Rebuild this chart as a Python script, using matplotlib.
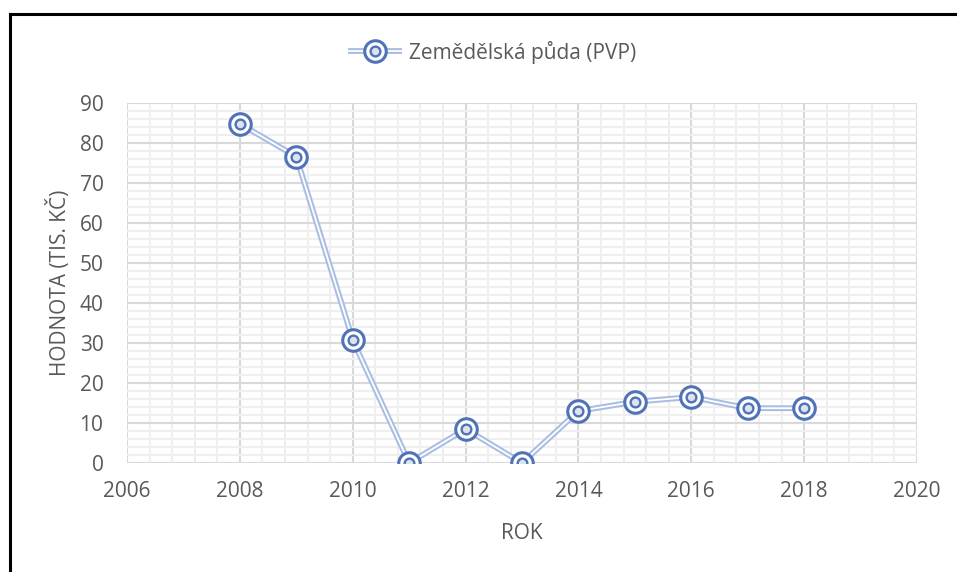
import matplotlib
matplotlib.use("Agg")
import matplotlib.pyplot as plt
from matplotlib.lines import Line2D
from matplotlib.legend_handler import HandlerTuple
from matplotlib.ticker import MultipleLocator

plt.rcParams["font.family"] = ["Open Sans", "DejaVu Sans"]

YEARS = [2008, 2009, 2010, 2011, 2012, 2013, 2014, 2015, 2016, 2017, 2018]
VALUES = [84.8, 76.6, 30.8, 0.0, 8.5, 0.0, 13.0, 15.3, 16.5, 13.7, 13.7]
SERIES_LABEL = "Zemědělská půda (PVP)"
X_LABEL = "ROK"
Y_LABEL = "HODNOTA (TIS. KČ)"

TEXT_COLOR = "#595959"
LINE_COLOR = "#A9BDE3"
MARKER_COLOR = "#4F72B8"
FONT_SIZE = 15

fig = plt.figure(figsize=(9.57, 5.72), dpi=100)
ax = fig.add_axes([127 / 957, 1 - 463 / 572, 790 / 957, 360 / 572])

outer_line, = ax.plot(YEARS, VALUES, color=LINE_COLOR, linewidth=4.2, zorder=3,
                      solid_capstyle="butt", solid_joinstyle="round")
inner_line, = ax.plot(YEARS, VALUES, color="white", linewidth=1.3, zorder=4,
                      solid_capstyle="butt", solid_joinstyle="round")
outer_mk, = ax.plot(YEARS, VALUES, linestyle="none", marker="o", markersize=15.5,
                    markerfacecolor="white", markeredgecolor=MARKER_COLOR,
                    markeredgewidth=2.2, zorder=5)
inner_mk, = ax.plot(YEARS, VALUES, linestyle="none", marker="o", markersize=7,
                    markerfacecolor="#DCE4F2", markeredgecolor=MARKER_COLOR,
                    markeredgewidth=1.7, zorder=6)

ax.set_xlim(2006, 2020)
ax.set_ylim(0, 90)
ax.xaxis.set_major_locator(MultipleLocator(2))
ax.xaxis.set_minor_locator(MultipleLocator(0.4))
ax.yaxis.set_major_locator(MultipleLocator(10))
ax.yaxis.set_minor_locator(MultipleLocator(2))

ax.grid(True, which="major", color="#D9D9D9", linewidth=1.5, zorder=1)
ax.grid(True, which="minor", color="#EFEFEF", linewidth=1.5, zorder=0)
ax.set_axisbelow(True)
for side in ["left", "right", "top", "bottom"]:
    ax.spines[side].set_visible(False)

ax.tick_params(which="both", length=0, labelsize=FONT_SIZE, colors=TEXT_COLOR, pad=13)
ax.tick_params(axis="y", pad=17)
ax.set_xlabel(X_LABEL, fontsize=FONT_SIZE, color=TEXT_COLOR, labelpad=15)
ax.set_ylabel(Y_LABEL, fontsize=FONT_SIZE, color=TEXT_COLOR, labelpad=6)

fig.legend(handles=[(outer_line, inner_line, outer_mk, inner_mk)], labels=[SERIES_LABEL],
           handler_map={tuple: HandlerTuple(ndivide=1, pad=0)},
           loc="center", bbox_to_anchor=(492 / 957, 1 - 52 / 572),
           frameon=False, fontsize=FONT_SIZE, labelcolor=TEXT_COLOR,
           handlelength=2.6, handletextpad=0.3)

# outer frame of the original screenshot (left and top edges only)
fig.add_artist(Line2D([9.5 / 957, 9.5 / 957], [0, 1 - 13.5 / 572],
                      transform=fig.transFigure, color="black", linewidth=2.2))
fig.add_artist(Line2D([9.5 / 957, 1], [1 - 13.5 / 572, 1 - 13.5 / 572],
                      transform=fig.transFigure, color="black", linewidth=2.2))

fig.savefig("out.png", dpi=100)
